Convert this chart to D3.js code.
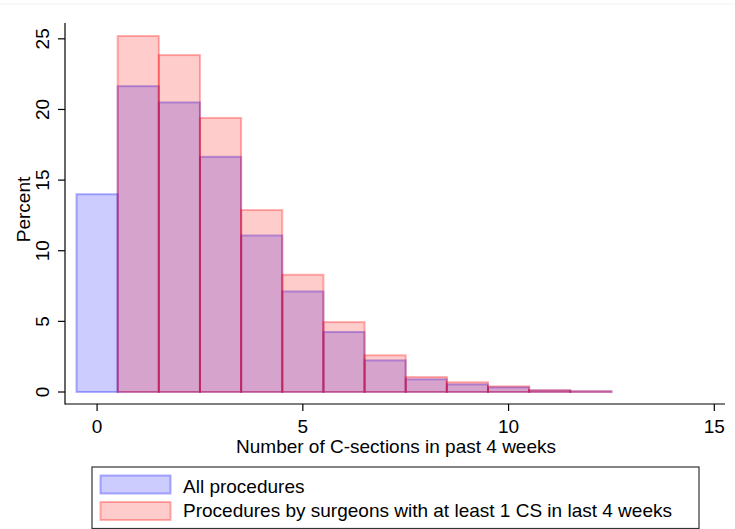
<!DOCTYPE html>
<html>
<head>
<meta charset="utf-8">
<script src="https://cdn.jsdelivr.net/npm/d3@7"></script>
<style>
  html, body { margin: 0; padding: 0; background: #fff; }
  svg { display: block; font-family: "Liberation Sans", Arial, sans-serif; }
</style>
</head>
<body>
<svg id="chart" width="735" height="529"></svg>
<script>
// Data
const bins = [0, 1, 2, 3, 4, 5, 6, 7, 8, 9, 10, 11, 12];
const allProcedures = [14.0, 21.65, 20.5, 16.65, 11.08, 7.12, 4.25, 2.24, 0.9, 0.54, 0.33, 0.11, 0.05];
const surgeonsAtLeast1 = [null, 25.2, 23.85, 19.4, 12.88, 8.3, 4.95, 2.6, 1.06, 0.69, 0.4, 0.13, 0.05];
const xTicks = [0, 5, 10, 15];
const yTicks = [0, 5, 10, 15, 20, 25];
const seriesNames = ["All procedures", "Procedures by surgeons with at least 1 CS in last 4 weeks"];

const svg = d3.select("#chart");
const W = 735, H = 529;
const FS = 19;

// faint outer border line at top
svg.append("line").attr("x1", 0).attr("x2", W).attr("y1", 4).attr("y2", 4)
  .attr("stroke", "#f2f2f2").attr("stroke-width", 1);

const x = d3.scaleLinear().domain([-0.78, 15.26]).range([65, 725]);
const y = d3.scaleLinear().domain([0, 26.05]).range([392, 24]);

const axisY = 404;

// Bars
const blueFill = "rgba(0,0,255,0.2)", blueStroke = "rgba(0,0,255,0.3)";
const redFill = "rgba(255,0,0,0.2)", redStroke = "rgba(255,0,0,0.3)";

const g = svg.append("g");
g.selectAll("rect.blue").data(bins.map((b, i) => ({b, v: allProcedures[i]})))
  .enter().append("rect").attr("class", "blue")
  .attr("x", d => x(d.b - 0.5)).attr("width", d => x(d.b + 0.5) - x(d.b - 0.5))
  .attr("y", d => y(d.v)).attr("height", d => y(0) - y(d.v))
  .attr("fill", blueFill).attr("stroke", blueStroke).attr("stroke-width", 2);

g.selectAll("rect.red").data(bins.map((b, i) => ({b, v: surgeonsAtLeast1[i]})).filter(d => d.v != null))
  .enter().append("rect").attr("class", "red")
  .attr("x", d => x(d.b - 0.5)).attr("width", d => x(d.b + 0.5) - x(d.b - 0.5))
  .attr("y", d => y(d.v)).attr("height", d => y(0) - y(d.v))
  .attr("fill", redFill).attr("stroke", redStroke).attr("stroke-width", 2);

// Y axis
const yAxisG = svg.append("g").attr("transform", "translate(65,0)");
yAxisG.append("line").attr("x1", 0).attr("x2", 0).attr("y1", 23).attr("y2", axisY + 0.5)
  .attr("stroke", "#000").attr("stroke-width", 1.2);
yTicks.forEach(t => {
  yAxisG.append("line").attr("x1", -7).attr("x2", 0).attr("y1", y(t)).attr("y2", y(t))
    .attr("stroke", "#000").attr("stroke-width", 1.2);
  yAxisG.append("text").attr("transform", `translate(-16,${y(t)}) rotate(-90)`)
    .attr("text-anchor", "middle").attr("font-size", FS).attr("fill", "#000")
    .text(t);
});
svg.append("text").attr("transform", `translate(30,${209.5}) rotate(-90)`)
  .attr("text-anchor", "middle").attr("font-size", FS).attr("fill", "#000").text("Percent");

// X axis
const xAxisG = svg.append("g").attr("transform", `translate(0,${axisY})`);
xAxisG.append("line").attr("x1", 65).attr("x2", 725).attr("y1", 0).attr("y2", 0)
  .attr("stroke", "#000").attr("stroke-width", 1.2);
xTicks.forEach(t => {
  xAxisG.append("line").attr("x1", x(t)).attr("x2", x(t)).attr("y1", 0).attr("y2", 7)
    .attr("stroke", "#000").attr("stroke-width", 1.2);
  xAxisG.append("text").attr("x", x(t)).attr("y", 28.5).attr("text-anchor", "middle")
    .attr("font-size", FS).attr("fill", "#000").text(t);
});
svg.append("text").attr("x", 396).attr("y", 453).attr("text-anchor", "middle")
  .attr("font-size", FS).attr("fill", "#000").text("Number of C-sections in past 4 weeks");

// Legend
const leg = svg.append("g");
leg.append("rect").attr("x", 92).attr("y", 467).attr("width", 607).attr("height", 61.5)
  .attr("fill", "#fff").attr("stroke", "#333").attr("stroke-width", 1.2);
const legItems = [
  {name: seriesNames[0], fill: blueFill, stroke: blueStroke},
  {name: seriesNames[1], fill: redFill, stroke: redStroke}
];
legItems.forEach((d, i) => {
  const yy = 475.5 + i * 26.5;
  leg.append("rect").attr("x", 100.5).attr("y", yy).attr("width", 70).attr("height", 18)
    .attr("fill", d.fill).attr("stroke", d.stroke).attr("stroke-width", 2);
  leg.append("text").attr("x", 183).attr("y", 492.5 + i * 24.8).attr("font-size", FS)
    .attr("fill", "#000").text(d.name);
});
</script>
</body>
</html>
